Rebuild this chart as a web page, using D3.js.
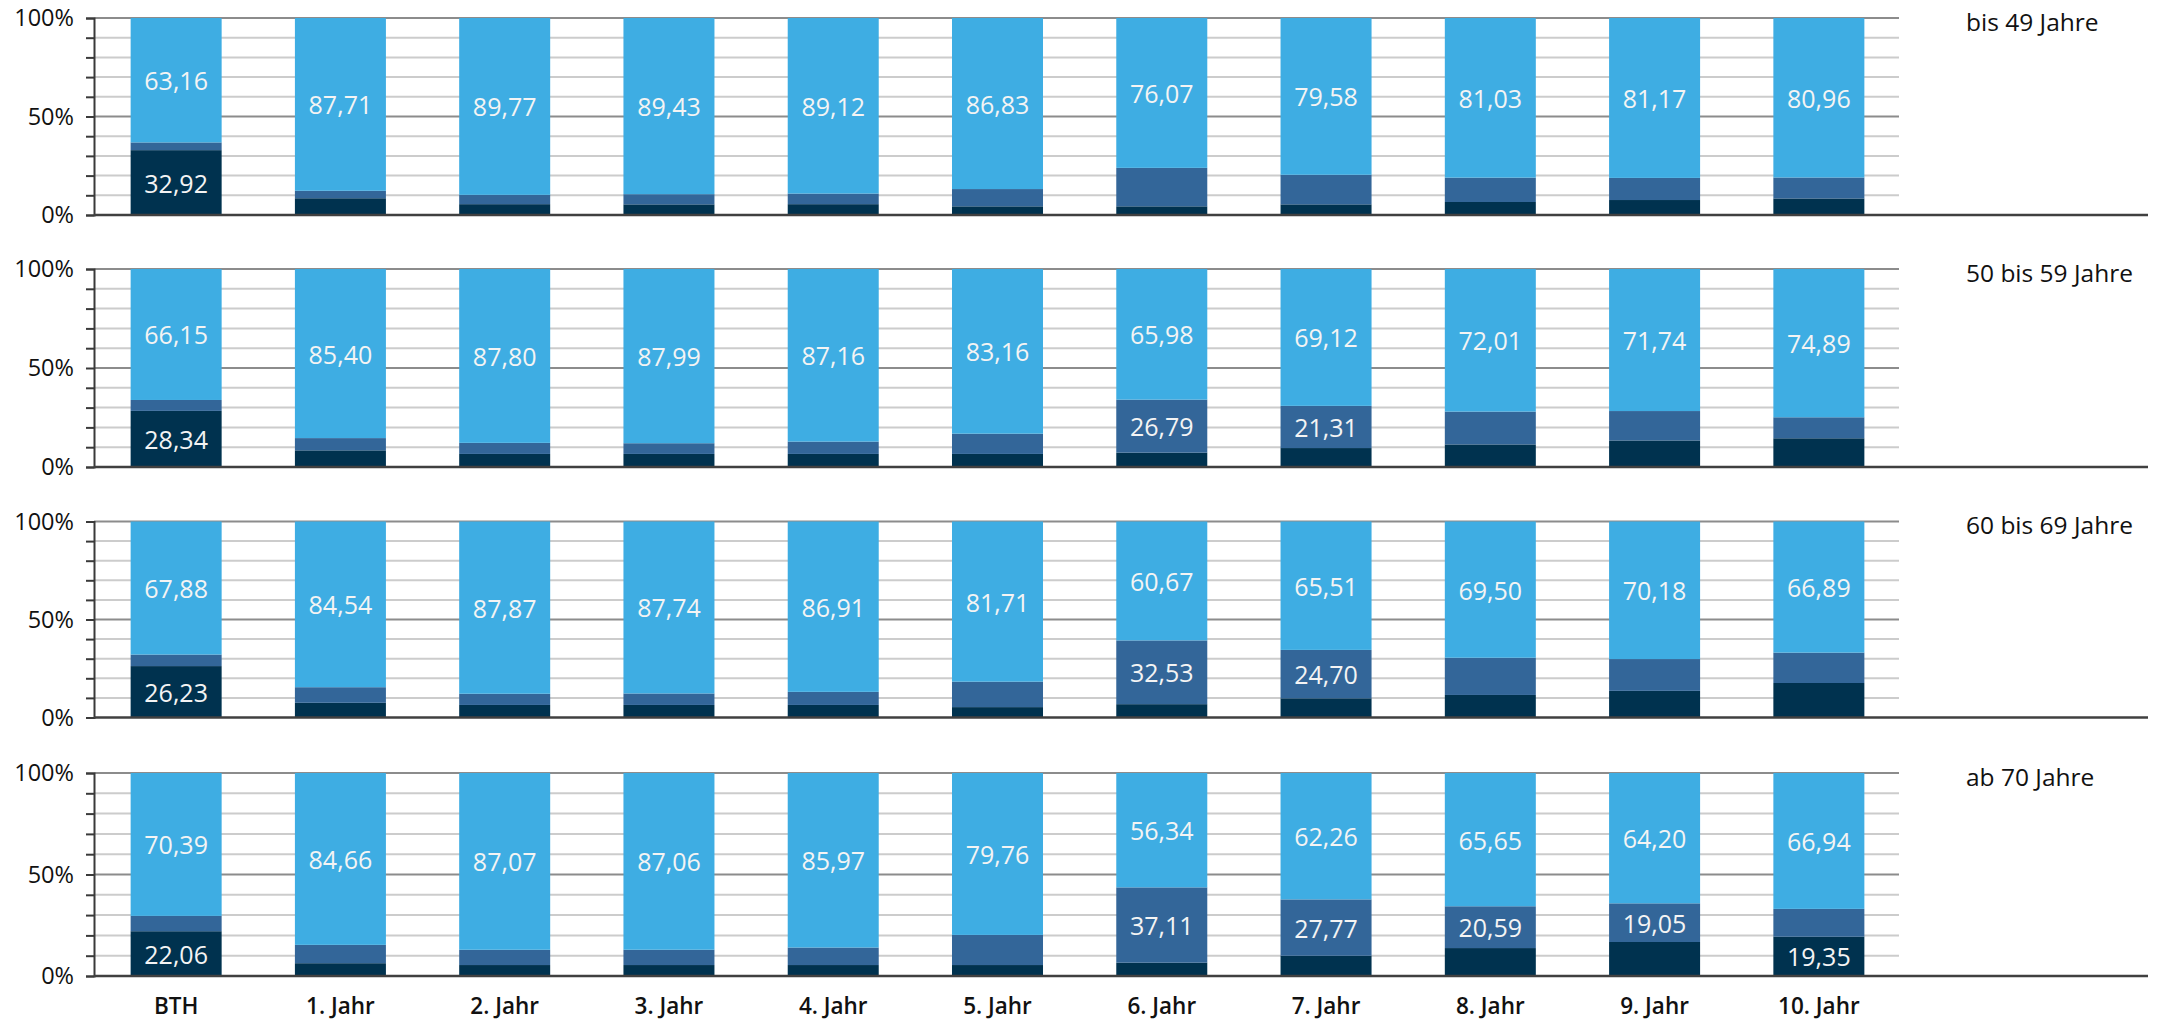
<!DOCTYPE html>
<html>
<head>
<meta charset="utf-8">
<script src="https://cdn.jsdelivr.net/npm/d3@7"></script>
<style>
  html, body { margin: 0; padding: 0; background: #fff; }
  svg { display: block; }
  text { font-family: "Open Sans", "Noto Sans", sans-serif; }
</style>
</head>
<body>
<svg id="chart" width="2159" height="1020"></svg>
<script>
// ---------- DATA ----------
const categories = ["BTH", "1. Jahr", "2. Jahr", "3. Jahr", "4. Jahr", "5. Jahr", "6. Jahr", "7. Jahr", "8. Jahr", "9. Jahr", "10. Jahr"];
const groups = ["bis 49 Jahre", "50 bis 59 Jahre", "60 bis 69 Jahre", "ab 70 Jahre"];
const seriesKeys = ["dark", "mid", "light"];
const yTickValues = [0, 10, 20, 30, 40, 50, 60, 70, 80, 90, 100];
const yTickLabels = { 0: "0%", 50: "50%", 100: "100%" };

// bis 49 Jahre
const light1 = [63.16, 87.71, 89.77, 89.43, 89.12, 86.83, 76.07, 79.58, 81.03, 81.17, 80.96];
const mid1   = [3.92, 3.79, 4.73, 5.17, 5.38, 8.77, 19.53, 15.02, 12.37, 11.23, 10.64];
const dark1  = [32.92, 8.5, 5.5, 5.4, 5.5, 4.4, 4.4, 5.4, 6.6, 7.6, 8.4];
// 50 bis 59 Jahre
const light2 = [66.15, 85.40, 87.80, 87.99, 87.16, 83.16, 65.98, 69.12, 72.01, 71.74, 74.89];
const mid2   = [5.51, 6.2, 5.6, 5.41, 6.24, 10.24, 26.79, 21.31, 16.59, 14.86, 10.61];
const dark2  = [28.34, 8.4, 6.6, 6.6, 6.6, 6.6, 7.23, 9.57, 11.4, 13.4, 14.5];
// 60 bis 69 Jahre
const light3 = [67.88, 84.54, 87.87, 87.74, 86.91, 81.71, 60.67, 65.51, 69.50, 70.18, 66.89];
const mid3   = [5.89, 7.96, 5.73, 5.86, 6.69, 12.99, 32.53, 24.70, 19.0, 16.22, 15.51];
const dark3  = [26.23, 7.5, 6.4, 6.4, 6.4, 5.3, 6.8, 9.79, 11.5, 13.6, 17.6];
// ab 70 Jahre
const light4 = [70.39, 84.66, 87.07, 87.06, 85.97, 79.76, 56.34, 62.26, 65.65, 64.20, 66.94];
const mid4   = [7.55, 9.04, 7.53, 7.54, 8.63, 14.84, 37.11, 27.77, 20.59, 19.05, 13.71];
const dark4  = [22.06, 6.3, 5.4, 5.4, 5.4, 5.4, 6.55, 9.97, 13.76, 16.75, 19.35];

// which segments carry a value label (indices into categories)
const labeledLight = [categories.map((_, i) => i), categories.map((_, i) => i), categories.map((_, i) => i), categories.map((_, i) => i)];
const labeledMid   = [[], [6, 7], [6, 7], [6, 7, 8, 9]];
const labeledDark  = [[0], [0], [0], [0, 10]];

const lightAll = [light1, light2, light3, light4];
const midAll   = [mid1, mid2, mid3, mid4];
const darkAll  = [dark1, dark2, dark3, dark4];

// ---------- STYLE / LAYOUT ----------
const colors = { dark: "#00324f", mid: "#336699", light: "#3eade3" };
const panelTop = [18, 269, 521.5, 773];
const panelHeight = [197, 198, 196, 203];
const plotLeft = 94, plotRight = 1901, axisRightExtent = 2148;
const groupLabelX = 1966;

const de = d3.formatLocale({ decimal: ",", thousands: ".", grouping: [3], currency: ["", " €"] });
const fmt = de.format(".2f");

const svg = d3.select("#chart");

const x = d3.scaleBand()
  .domain(categories)
  .range([plotLeft, plotRight])
  .paddingInner(0.446)
  .paddingOuter(0.223);

groups.forEach((gName, gi) => {
  const top = panelTop[gi], h = panelHeight[gi];
  const y = d3.scaleLinear().domain([0, 100]).range([top + h, top]);

  const rows = categories.map((c, i) => ({
    cat: c, idx: i,
    dark: darkAll[gi][i], mid: midAll[gi][i], light: lightAll[gi][i]
  }));
  const stacked = d3.stack().keys(seriesKeys)(rows);

  const g = svg.append("g").attr("class", "panel");

  // gridlines
  g.append("g").selectAll("line")
    .data(yTickValues.filter(v => v !== 0))
    .join("line")
    .attr("x1", plotLeft).attr("x2", plotRight - 2)
    .attr("y1", d => y(d)).attr("y2", d => y(d))
    .attr("stroke", d => (d % 50 === 0) ? "#8c8c8c" : "#cccccc")
    .attr("stroke-width", 2);

  // bars
  const layer = g.append("g").selectAll("g")
    .data(stacked)
    .join("g")
    .attr("fill", d => colors[d.key]);

  layer.selectAll("rect")
    .data(d => d)
    .join("rect")
    .attr("x", d => x(d.data.cat))
    .attr("width", x.bandwidth())
    .attr("y", d => y(d[1]))
    .attr("height", d => y(d[0]) - y(d[1]));

  // value labels
  const labelSets = { dark: labeledDark[gi], mid: labeledMid[gi], light: labeledLight[gi] };
  stacked.forEach(s => {
    const show = labelSets[s.key];
    g.append("g").selectAll("text")
      .data(s.filter(d => show.includes(d.data.idx)))
      .join("text")
      .attr("x", d => x(d.data.cat) + x.bandwidth() / 2)
      .attr("y", d => y((d[0] + d[1]) / 2))
      .attr("text-anchor", "middle")
      .attr("dominant-baseline", "central")
      .attr("fill", "#f4f4f4")
      .attr("font-size", 25)
      .text(d => fmt(d[1] - d[0]));
  });

  // y axis
  const yAxis = d3.axisLeft(y)
    .tickValues(yTickValues)
    .tickSize(8)
    .tickPadding(12)
    .tickFormat(d => yTickLabels[d] || "");
  const ya = g.append("g")
    .attr("transform", `translate(${plotLeft},0)`)
    .call(yAxis);
  ya.select(".domain").attr("stroke", "#3a3a3a").attr("stroke-width", 2);
  ya.selectAll(".tick line").attr("stroke", "#3a3a3a").attr("stroke-width", 2);
  ya.selectAll(".tick text")
    .attr("font-size", 23.5)
    .attr("font-weight", 500)
    .attr("fill", "#111")
    .attr("font-family", "\"Open Sans\", sans-serif");

  // baseline (0%)
  g.append("line")
    .attr("x1", plotLeft).attr("x2", axisRightExtent)
    .attr("y1", y(0)).attr("y2", y(0))
    .attr("stroke", "#404040").attr("stroke-width", 2.5);

  // group label
  g.append("text")
    .attr("x", groupLabelX)
    .attr("y", top + 3)
    .attr("dominant-baseline", "central")
    .attr("font-size", 24.5)
    .attr("fill", "#111")
    .text(gName);

  // category labels on the last panel
  if (gi === groups.length - 1) {
    const xAxis = d3.axisBottom(x).tickSize(0).tickPadding(22);
    const xa = g.append("g")
      .attr("transform", `translate(0,${top + h})`)
      .call(xAxis);
    xa.select(".domain").remove();
    xa.selectAll(".tick text")
      .attr("font-size", 22.5)
      .attr("font-weight", 600)
      .attr("fill", "#111")
      .attr("font-family", "\"Open Sans\", sans-serif");
  }
});
</script>
</body>
</html>
